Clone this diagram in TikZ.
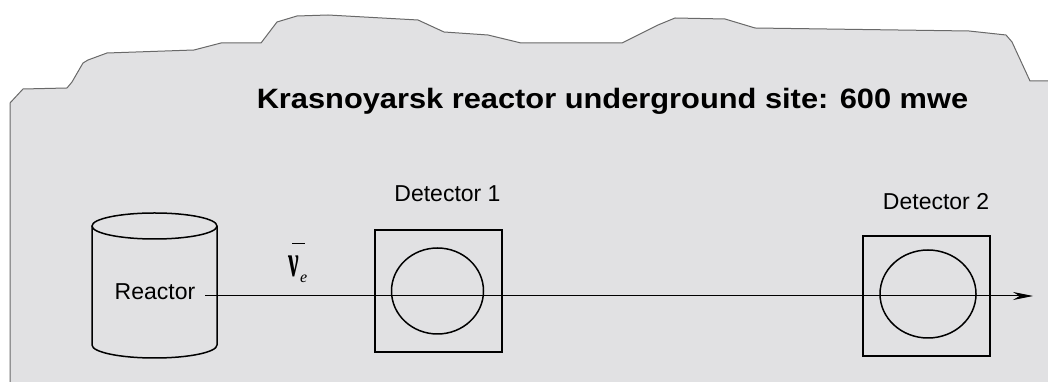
\documentclass[tikz,border=0pt]{standalone}
\usepackage{fontspec}
\setmainfont{Liberation Sans}
\newfontfamily\nufont{Liberation Serif}
\newfontfamily\titlefont[FakeStretch=1.1]{Liberation Sans}
\usetikzlibrary{positioning,arrows.meta,shapes.geometric}

\definecolor{rockGray}{RGB}{225,225,227}
\definecolor{rockEdge}{RGB}{105,105,105}

\begin{document}
\begin{tikzpicture}[
  x=1pt, y=1pt,
  detBox/.style={draw, line width=1.5pt, minimum width=127pt,
                 minimum height=122pt, inner sep=0pt},
  detCore/.style={ellipse, draw, line width=1.5pt, minimum width=92pt,
                  minimum height=86pt, inner sep=0pt},
  lbl/.style={font=\fontsize{23}{27}\selectfont, inner sep=0pt, anchor=base},
  beam/.style={line width=1pt, -{Stealth[length=20pt,width=8pt]}},
  vessel/.style={line width=1.5pt},
  >=Stealth
]
  \useasboundingbox (0,0) rectangle (1048,382);

  % Rock above the site
  \fill[rockGray] (10,0) -- (10,279) -- (23,293) -- (67,294) -- (72,300)
    -- (83,319) -- (88,322) -- (107,329) -- (194,332) -- (221,339)
    -- (261,339) -- (277,360) -- (297,366) -- (328,367) -- (418,362)
    -- (444,350) -- (488,347) -- (521,339) -- (622,339) -- (658,357)
    -- (675,364) -- (725,363) -- (755,354) -- (969,351) -- (1006,347)
    -- (1012,340) -- (1030,301) -- (1048,301) -- (1048,0) -- cycle;
  \draw[rockEdge, line width=1pt] (10,0) -- (10,279) -- (23,293) -- (67,294)
    -- (72,300) -- (83,319) -- (88,322) -- (107,329) -- (194,332)
    -- (221,339) -- (261,339) -- (277,360) -- (297,366) -- (328,367)
    -- (418,362) -- (444,350) -- (488,347) -- (521,339) -- (622,339)
    -- (658,357) -- (675,364) -- (725,363) -- (755,354) -- (969,351)
    -- (1006,347) -- (1012,340) -- (1030,301) -- (1048,301);

  % Title
  \node[anchor=base, inner sep=0pt,
        font=\titlefont\bfseries\fontsize{28}{32}\selectfont] (title)
    at (612.5,273) {Krasnoyarsk reactor underground site: 600 mwe};

  % Reactor vessel
  \draw[vessel] (154.5,156) ellipse [x radius=62.5, y radius=13];
  \draw[vessel] (92,156) -- (92,37)
    arc[start angle=180, end angle=360, x radius=62.5, y radius=13]
    -- (217,156);
  \node[lbl, inner xsep=10pt] (reactor) at (155,82) {Reactor};

  % Detectors
  \node[detBox] (det1) at (438.5,91) {};
  \node[detCore] (core1) at (437.5,91) {};
  \node[lbl] (det1Lbl) at (447.5,180) {Detector 1};

  \node[detBox, minimum height=120pt] (det2) at (926.5,86) {};
  \node[detCore, minimum width=96pt, minimum height=88pt] (core2)
    at (928,88) {};
  \node[lbl] (det2Lbl) at (936,172) {Detector 2};

  % Antineutrino beam
  \coordinate (tip) at (1033,86);
  \draw[beam] (reactor.east |- tip) -- (tip);

  % nu-bar label
  \node[inner sep=0pt, font=\nufont\bfseries\fontsize{25}{30}\selectfont] (nu)
    at (293.5,116) {\scalebox{0.95}[1.8]{ν}};
  \node[inner sep=0pt, anchor=base west,
        font=\nufont\itshape\fontsize{16}{18}\selectfont] (nuSub)
    at (300,99) {e};
  \draw[line width=1pt] ([shift={(-1.5,12)}]nu.north)
    -- ([shift={(11.5,12)}]nu.north);
\end{tikzpicture}
\end{document}
